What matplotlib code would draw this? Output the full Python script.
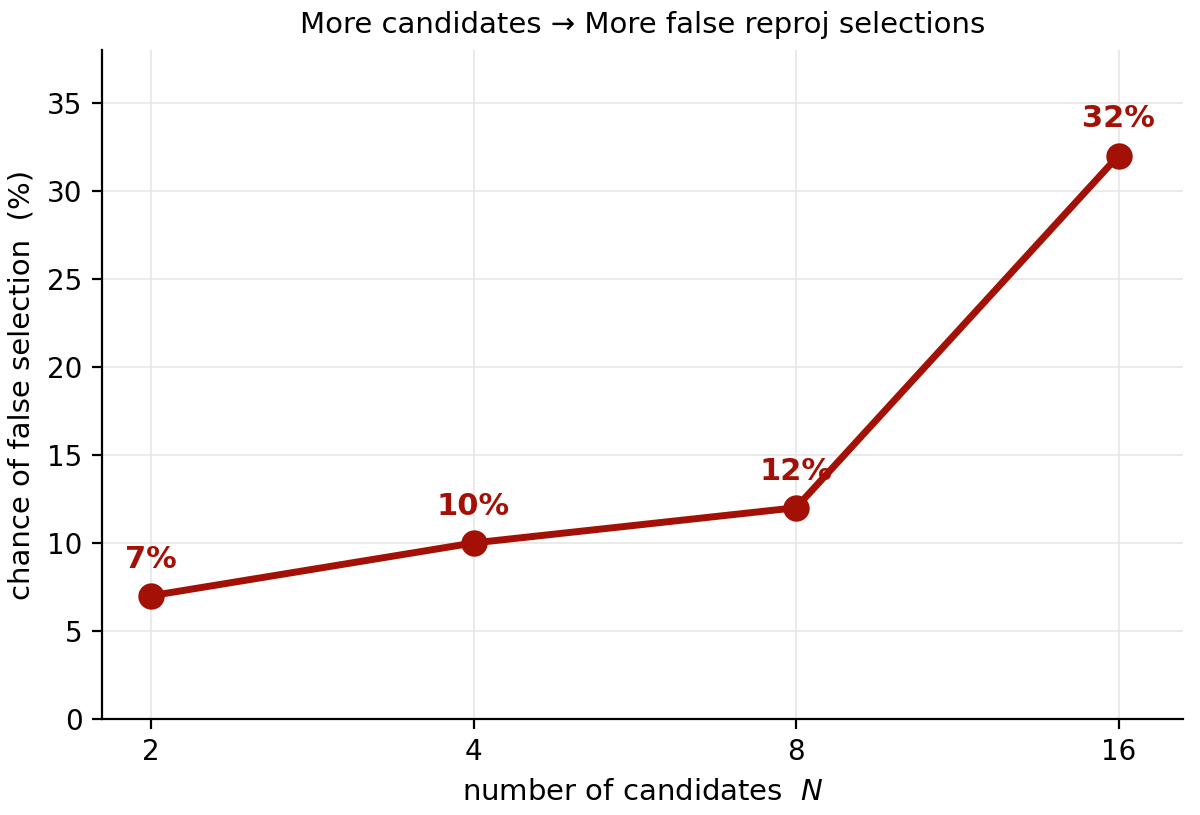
import matplotlib
matplotlib.use("Agg")
import matplotlib.pyplot as plt
from matplotlib.ticker import FixedLocator, FixedFormatter, NullLocator

N = [2, 4, 8, 16]
rates = [7, 10, 12, 32]
labels = ["7%", "10%", "12%", "32%"]

color = "#a31106"
fig = plt.figure(figsize=(6, 4.075), dpi=200)
ax = fig.add_axes([102/1200, 1-719/815, (1183-102)/1200, (719-50)/815])
ax.plot(N, rates, color=color, lw=2.5, marker="o", ms=8.5, zorder=3)
for x, y, t in zip(N, rates, labels):
    ax.annotate(t, (x, y), xytext=(0, 8), textcoords="offset points",
                ha="center", va="bottom", color=color, fontweight="bold", fontsize=11)
ax.set_xscale("log", base=2)
ax.set_xlim(2**(1-0.152), 2**(1+3.2))
ax.xaxis.set_major_locator(FixedLocator(N))
ax.xaxis.set_major_formatter(FixedFormatter([str(n) for n in N]))
ax.xaxis.set_minor_locator(NullLocator())
ax.set_ylim(0, 38)
ax.set_yticks(range(0, 36, 5))
ax.tick_params(labelsize=10)
ax.grid(True, color="#e6e6e6", lw=0.6)
ax.set_axisbelow(True)
for s in ["top", "right"]:
    ax.spines[s].set_visible(False)
ax.set_xlabel("number of candidates  $N$", fontsize=10.5)
ax.set_ylabel("chance of false selection  (%)", fontsize=10.5)
ax.set_title("More candidates → More false reproj selections", fontsize=10.5)
fig.savefig("out.png", dpi=200)
